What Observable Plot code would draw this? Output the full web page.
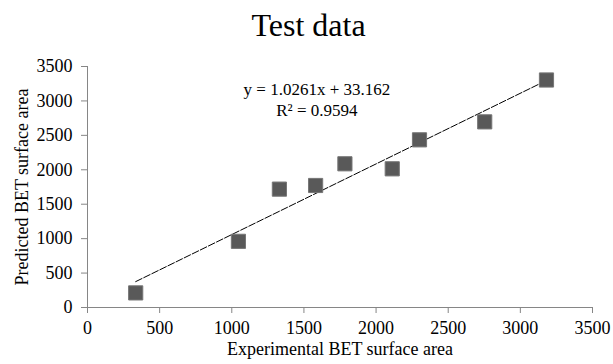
<!DOCTYPE html>
<html>
<head>
<meta charset="utf-8">
<script src="https://cdn.jsdelivr.net/npm/d3@7"></script>
<script src="https://cdn.jsdelivr.net/npm/@observablehq/plot@0.6"></script>
<style>
  html, body { margin: 0; padding: 0; background: #fff; }
  #wrap { width: 613px; height: 364px; position: relative; font-family: "Liberation Serif", "Times New Roman", serif; }
  #title { height: 50px; line-height: 50px; text-align: center; font-size: 32px; color: #000; padding-left: 4px; }
  #chart svg, #chart svg text { font-family: "Liberation Serif", "Times New Roman", serif !important; font-variant: normal !important; }
</style>
</head>
<body>
<div id="wrap">
  <div id="title">Test data</div>
  <div id="chart"></div>
</div>
<script>
const experimental = [334, 1046, 1330, 1581, 1784, 2112, 2301, 2753, 3181];
const predicted    = [212, 961, 1719, 1772, 2087, 2014, 2435, 2696, 3304];
const xTicks = [0, 500, 1000, 1500, 2000, 2500, 3000, 3500];
const yTicks = [0, 500, 1000, 1500, 2000, 2500, 3000, 3500];
const slope = 1.0261;
const intercept = 33.162;
const equationText = "y = 1.0261x + 33.162\nR² = 0.9594";
const equationPos = [{x: 1590, y: 3030}];

const points = experimental.map((x, i) => ({x, y: predicted[i]}));
const xMin = d3.min(experimental), xMax = d3.max(experimental);
const trend = [xMin, xMax].map(x => ({x, y: slope * x + intercept}));

const serif = "'Liberation Serif', 'Times New Roman', serif";
const axisColor = "#868686";
const fmt = d3.format("d");
const chart = Plot.plot({
  width: 613,
  height: 314,
  marginTop: 16,
  marginBottom: 57,
  marginLeft: 87,
  marginRight: 21,
  style: {fontFamily: serif, fontSize: "18px", color: "#000", background: "#fff"},
  x: {domain: [0, 3500]},
  y: {domain: [0, 3500]},
  marks: [
    Plot.ruleY([0], {stroke: axisColor}),
    Plot.ruleX([0], {stroke: axisColor}),
    Plot.axisX(xTicks, {tickSize: 6, tickPadding: 8, tickFormat: fmt, stroke: axisColor, fill: "#000", fontFamily: serif, fontSize: 18, label: "Experimental BET surface area", labelAnchor: "center", labelOffset: 47, labelArrow: "none"}),
    Plot.axisY(yTicks, {tickSize: 6, tickPadding: 9, tickFormat: fmt, stroke: axisColor, fill: "#000", fontFamily: serif, fontSize: 18, label: "Predicted BET surface area", labelAnchor: "center", labelOffset: 72, labelArrow: "none"}),
    Plot.line(trend, {x: "x", y: "y", stroke: "#000", strokeWidth: 1, strokeDasharray: "7,2"}),
    Plot.dot(points, {x: "x", y: "y", symbol: "square", r: 8, fill: "#595959", stroke: "#767676", strokeWidth: 1}),
    Plot.text(equationPos, {x: "x", y: "y", text: () => equationText, fontFamily: serif, fontSize: 17, lineHeight: 1.25, fill: "#000", textAnchor: "middle"})
  ]
});
document.getElementById("chart").appendChild(chart);
</script>
</body>
</html>
